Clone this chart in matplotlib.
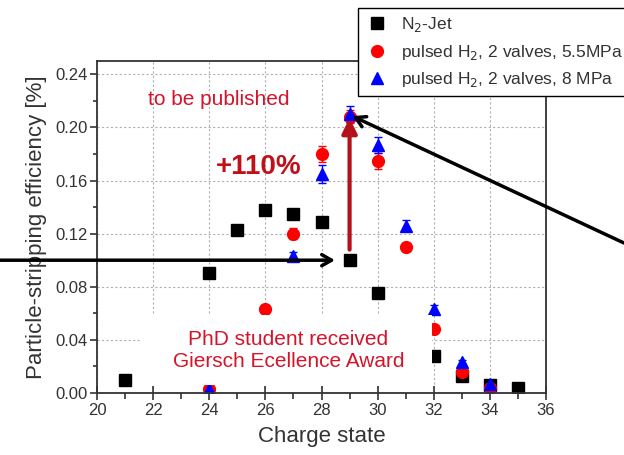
import matplotlib
matplotlib.use('Agg')
import matplotlib.pyplot as plt
from matplotlib.lines import Line2D
from matplotlib.patches import Rectangle
from matplotlib.ticker import MultipleLocator

plt.rcParams['font.family'] = ['Liberation Sans', 'DejaVu Sans']

# stripping efficiency vs. charge state for the three target types
n2_q = [21, 24, 25, 26, 27, 28, 29, 30, 32, 33, 34, 35]
n2_eff = [0.010, 0.090, 0.123, 0.138, 0.135, 0.129, 0.100, 0.075, 0.028, 0.013, 0.006, 0.004]
n2_err = [0.001, 0.002, 0.003, 0.003, 0.003, 0.003, 0.002, 0.002, 0.001, 0.001, 0.001, 0.001]

h2a_q = [24, 26, 27, 28, 29, 30, 31, 32, 33, 34]
h2a_eff = [0.003, 0.063, 0.120, 0.180, 0.208, 0.175, 0.110, 0.048, 0.016, 0.004]
h2a_err = [0.001, 0.002, 0.004, 0.006, 0.005, 0.006, 0.003, 0.002, 0.002, 0.002]

h2b_q = [24, 27, 28, 29, 30, 31, 32, 33, 34]
h2b_eff = [0.003, 0.103, 0.165, 0.210, 0.187, 0.126, 0.063, 0.023, 0.007]
h2b_err = [0.002, 0.003, 0.007, 0.006, 0.006, 0.004, 0.003, 0.002, 0.002]

labels = ['N$_2$-Jet', 'pulsed H$_2$, 2 valves, 5.5MPa', 'pulsed H$_2$, 2 valves, 8 MPa']

fig = plt.figure(figsize=(6.24, 4.55), dpi=100)
ax = fig.add_axes([97/624, 1-393/455, (546-97)/624, (393-61)/455])

ax.errorbar(n2_q, n2_eff, yerr=n2_err, fmt='s', color='k', ms=8, capsize=3, elinewidth=1, zorder=2)
ax.errorbar(h2a_q, h2a_eff, yerr=h2a_err, fmt='o', color='red', ms=8.5, capsize=3, elinewidth=1, zorder=2)
ax.errorbar(h2b_q, h2b_eff, yerr=h2b_err, fmt='^', color='blue', ms=9, capsize=3, elinewidth=1, zorder=2)

ax.set_xlim(20, 36)
ax.set_ylim(0, 0.25)
ax.xaxis.set_major_locator(MultipleLocator(2))
ax.xaxis.set_minor_locator(MultipleLocator(1))
ax.yaxis.set_major_locator(MultipleLocator(0.04))
ax.yaxis.set_minor_locator(MultipleLocator(0.02))
ax.yaxis.set_major_formatter(matplotlib.ticker.FormatStrFormatter('%.2f'))
ax.grid(True, which='major', color='#b0b0b0', lw=0.8, ls=(0, (2, 2)))
ax.set_axisbelow(True)

for s in ax.spines.values():
    s.set_color('#333333')
    s.set_linewidth(1.3)
ax.tick_params(axis='x', which='major', direction='inout', length=10, width=1.2, color='#333333',
               labelsize=12, labelcolor='#333333', pad=2)
ax.tick_params(axis='x', which='minor', direction='out', length=4, width=1.2, color='#333333')
ax.tick_params(axis='y', which='major', direction='out', length=5, width=1.2, color='#333333',
               labelsize=12, labelcolor='#333333', pad=2)
ax.tick_params(axis='y', which='minor', direction='out', length=3, width=1.2, color='#333333')

ax.set_xlabel('Charge state', fontsize=16, color='#333333', labelpad=6)
ax.set_ylabel('Particle-stripping efficiency [%]', fontsize=16, color='#333333', labelpad=6)

# white panel behind the award note
ax.add_patch(Rectangle((21.53, 0.006), 31.94-21.53, 0.059-0.006, facecolor='white',
                       edgecolor='none', zorder=3))
ax.text(26.82, 0.032, 'PhD student received\nGiersch Ecellence Award', fontsize=15,
        color='#d4142a', ha='center', va='center', linespacing=1.2, zorder=4)
ax.text(24.35, 0.221, 'to be published', fontsize=15, color='#d4142a', ha='center', va='center', zorder=4)
ax.text(25.75, 0.170, '+110%', fontsize=20, fontweight='bold', color='#c0101a',
        ha='center', va='center', zorder=4)

# gain arrow at q = 29
i29 = n2_q.index(29)
j29 = h2b_q.index(29)
ax.annotate('', xy=(29, h2b_eff[j29] - 0.003), xytext=(29, n2_eff[i29] + 0.008),
            arrowprops=dict(arrowstyle='-|>,head_length=0.9,head_width=0.45', lw=3,
                            color='#b3121b', shrinkA=0, shrinkB=0), zorder=5)

# pointer arrows coming in from outside the axes
ax.annotate('', xy=(28.48, n2_eff[i29]), xycoords='data',
            xytext=(0, n2_eff[i29]), textcoords=('figure fraction', 'data'),
            arrowprops=dict(arrowstyle='->,head_length=0.7,head_width=0.4', lw=2.5,
                            color='k', shrinkA=0, shrinkB=0), annotation_clip=False, zorder=6)
ax.annotate('', xy=(29.1, 0.2085), xycoords='data',
            xytext=(1.0, 1-243/455), textcoords='figure fraction',
            arrowprops=dict(arrowstyle='->,head_length=0.7,head_width=0.4', lw=2.5,
                            color='k', shrinkA=0, shrinkB=0), annotation_clip=False, zorder=6)

handles = [Line2D([], [], ls='none', marker='s', color='k', ms=8),
           Line2D([], [], ls='none', marker='o', color='red', ms=8.5),
           Line2D([], [], ls='none', marker='^', color='blue', ms=9)]
leg = fig.legend(handles, labels, loc='upper left', bbox_to_anchor=(358/624, 1-8/455),
                 fontsize=12.5, frameon=True, fancybox=False, edgecolor='k', framealpha=1,
                 borderaxespad=0, borderpad=0.4, handlelength=1.4, handletextpad=0.7,
                 labelspacing=0.5)
leg.get_frame().set_linewidth(1.0)
for t in leg.get_texts():
    t.set_color('#333333')

fig.savefig('out.png', dpi=100)
